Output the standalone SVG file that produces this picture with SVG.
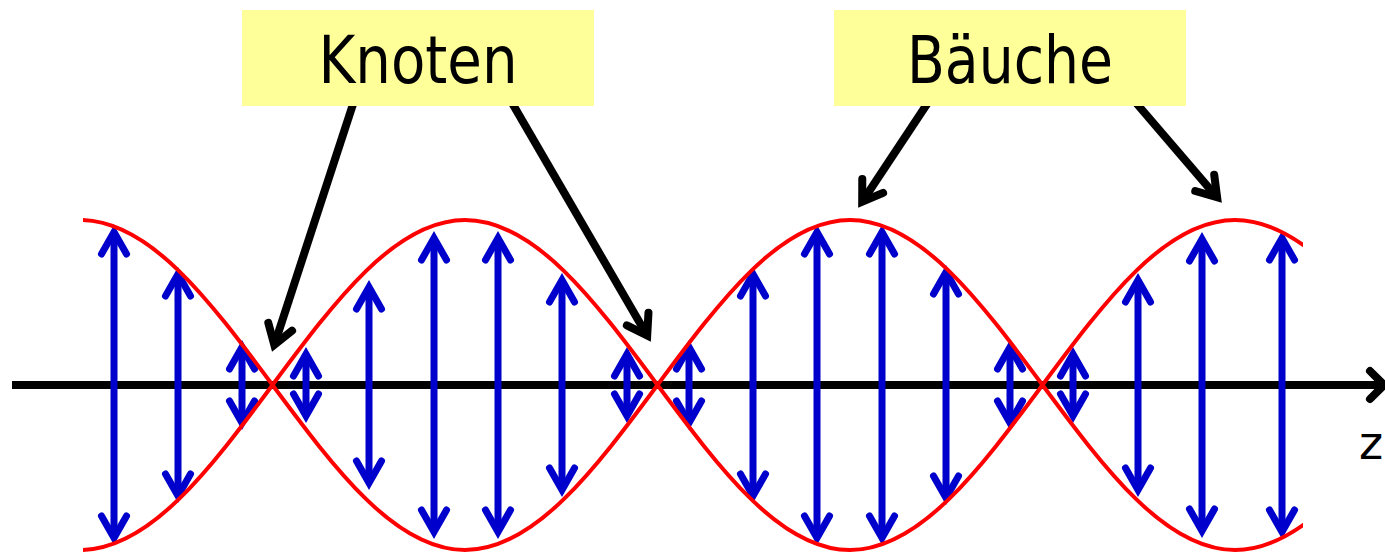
<svg xmlns="http://www.w3.org/2000/svg" width="1385" height="553" viewBox="0 0 1385 553">
<style>
.box{fill:#FFFF99}
.lbl{font-family:"DejaVu Sans","Liberation Sans",sans-serif;font-size:66px;fill:#000}
.blue{stroke:#0000CC;stroke-width:7;fill:none;marker-start:url(#bh);marker-end:url(#bh)}
.blk{stroke:#000;stroke-width:8;fill:none;marker-end:url(#kh)}
.wave{stroke:#FF0000;stroke-width:4;fill:none}
</style>
<defs>
<marker id="bh" markerUnits="userSpaceOnUse" orient="auto-start-reverse" overflow="visible" markerWidth="1" markerHeight="1" refX="0" refY="0">
<path d="M -22,-12.5 L 0,0 L -22,12.5" fill="none" stroke="#0000CC" stroke-width="7" stroke-linecap="round" stroke-linejoin="miter"/>
</marker>
<marker id="kh" markerUnits="userSpaceOnUse" orient="auto" overflow="visible" markerWidth="1" markerHeight="1" refX="0" refY="0">
<path d="M -19,-12.5 L 0,0 L -19,12.5" fill="none" stroke="#000" stroke-width="8" stroke-linecap="round" stroke-linejoin="miter"/>
</marker>
<clipPath id="wc"><rect x="83" y="0" width="1220" height="553"/></clipPath>
</defs>
<g id="axis">
<line x1="12" y1="385" x2="1380" y2="385" stroke="#000" stroke-width="8"/>
<polyline points="1370,371 1384,385 1370,399" fill="none" stroke="#000" stroke-width="8" stroke-linecap="round" stroke-linejoin="miter"/>
<text x="1359" y="459" font-family="DejaVu Sans, Liberation Sans, sans-serif" font-size="46" fill="#000">z</text>
</g>
<g id="oscillations">
<line class="blue" x1="114" y1="232" x2="114" y2="538"/>
<line class="blue" x1="178" y1="274" x2="178" y2="496"/>
<line class="blue" x1="242" y1="347" x2="242" y2="423"/>
<line class="blue" x1="306" y1="354" x2="306" y2="416"/>
<line class="blue" x1="369" y1="287" x2="369" y2="483"/>
<line class="blue" x1="434" y1="238" x2="434" y2="532"/>
<line class="blue" x1="498" y1="238" x2="498" y2="532"/>
<line class="blue" x1="562" y1="280" x2="562" y2="490"/>
<line class="blue" x1="627" y1="354" x2="627" y2="416"/>
<line class="blue" x1="689" y1="347" x2="689" y2="423"/>
<line class="blue" x1="753" y1="274" x2="753" y2="496"/>
<line class="blue" x1="817" y1="232" x2="817" y2="538"/>
<line class="blue" x1="882" y1="232" x2="882" y2="538"/>
<line class="blue" x1="946" y1="272" x2="946" y2="498"/>
<line class="blue" x1="1010" y1="347" x2="1010" y2="423"/>
<line class="blue" x1="1073" y1="354" x2="1073" y2="416"/>
<line class="blue" x1="1138" y1="280" x2="1138" y2="490"/>
<line class="blue" x1="1202" y1="239" x2="1202" y2="531"/>
<line class="blue" x1="1282" y1="238" x2="1282" y2="532"/>
</g>
<g id="envelope" clip-path="url(#wc)">
<path class="wave" d="M 80,220 C 149.67,220 209.72,300.5 272.5,385 C 335.28,469.5 395.33,550 465,550 C 534.67,550 594.72,469.5 657.5,385 C 720.28,300.5 780.33,220 850,220 C 919.67,220 979.72,300.5 1042.5,385 C 1105.28,469.5 1165.33,550 1235,550 C 1304.67,550 1364.72,469.5 1427.5,385"/>
<path class="wave" d="M 80,550 C 149.67,550 209.72,469.5 272.5,385 C 335.28,300.5 395.33,220 465,220 C 534.67,220 594.72,300.5 657.5,385 C 720.28,469.5 780.33,550 850,550 C 919.67,550 979.72,469.5 1042.5,385 C 1105.28,300.5 1165.33,220 1235,220 C 1304.67,220 1364.72,300.5 1427.5,385"/>
</g>
<g id="connectors">
<line class="blk" x1="356" y1="95" x2="274.3" y2="344.9"/>
<line class="blk" x1="508" y1="96" x2="647.2" y2="335.5"/>
<line class="blk" x1="931" y1="98" x2="862.2" y2="201.8"/>
<line class="blk" x1="1131" y1="97" x2="1217.1" y2="197.3"/>
</g>
<g id="knoten">
<rect class="box" x="242" y="10" width="352" height="96"/>
<text class="lbl" x="418" y="83" text-anchor="middle" textLength="199" lengthAdjust="spacingAndGlyphs">Knoten</text>
</g>
<g id="baeuche">
<rect class="box" x="834" y="10" width="352" height="96"/>
<text class="lbl" x="1010" y="83" text-anchor="middle" textLength="206" lengthAdjust="spacingAndGlyphs">Bäuche</text>
</g>
</svg>
